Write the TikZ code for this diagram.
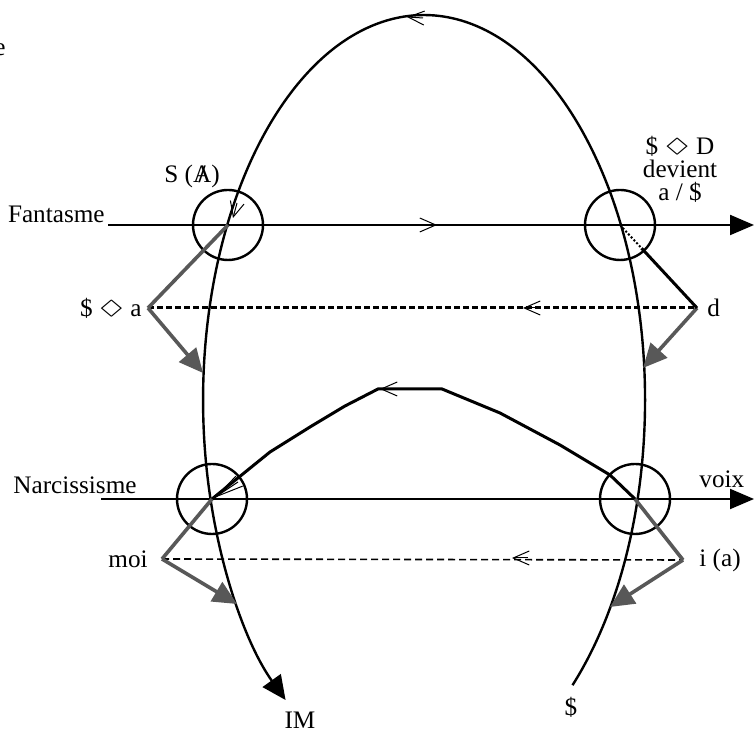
\documentclass[tikz,border=0pt]{standalone}
\usepackage{amssymb,graphicx}
\usepackage{fontspec}
\setmainfont{Liberation Serif}
\usetikzlibrary{arrows.meta,positioning,calc}
\definecolor{gris}{RGB}{88,88,88}
\newcommand{\poin}{\raisebox{0.15ex}{\scalebox{1.5}[0.8]{$\Diamond$}}}
\newcommand{\Abarre}{\ooalign{A\cr\hidewidth\textbf{/}\hidewidth}}

\begin{document}
\begin{tikzpicture}[x=0.5pt,y=0.5pt,
 txt/.style={inner sep=0pt,font=\fontsize{12.6}{11.5}\selectfont},
 rond/.style={draw,circle,line width=1.2pt,minimum size=35pt,inner sep=0pt},
 axe/.style={line width=1pt,-{Triangle[length=12pt,width=10pt]}},
 gtrait/.style={gris,line width=1.8pt},
 gfleche/.style={gtrait,-{Triangle[length=12pt,width=11pt]}},
 sens/.style={line width=0.5pt,-{Straight Barb[length=8pt,width=7pt]}}]
\useasboundingbox (0,0) rectangle (754,731);
% croisements
\coordinate (F1) at (228,506);
\coordinate (F2) at (620,506);
\coordinate (N1) at (212,232);
\coordinate (N2) at (635,232);
\coordinate (fs) at (108,506); \coordinate (fe) at (754,506);
\coordinate (ns) at (101,232); \coordinate (ne) at (754,232);
\coordinate (dol) at (572.5,45.8);
% sommets et pointes grises
\coordinate (psa) at (148,423);
\coordinate (pd) at (697,423);
\coordinate (pmoi) at (162,172);
\coordinate (pia) at (683,171);
\coordinate (tsa) at (203,358);
\coordinate (td) at (643,363);
\coordinate (tmoi) at (237,127);
\coordinate (tia) at (610,124);

% grand arc
\draw[line width=1.2pt,-{Triangle[length=12pt,width=11pt]}] (dol) arc[start angle=-47.8,end angle=231.2,x radius=221,y radius=385];
\draw[axe] (fs) -- (fe);
\draw[axe] (ns) -- (ne);
\node[rond] (cF1) at (F1) {};
\node[rond] (cF2) at (F2) {};
\node[rond] (cN1) at (N1) {};
\node[rond] (cN2) at (N2) {};
% petit arc
\draw[line width=1.5pt] (N1) -- (270,279) -- (310,304) -- (345,325) -- (378,342) -- (442,342) -- (500,318) -- (560,286) -- (610,256) -- (N2);
% pointilles
\draw[line width=1.5pt,dash pattern=on 3pt off 1.5pt] (psa) -- (pd);
\draw[line width=0.8pt,dash pattern=on 3.5pt off 2pt] (pmoi) -- (pia);
% gris
\draw[gtrait] (psa) -- (F1);
\draw[gfleche] (psa) -- (tsa);
\draw[gfleche] (pd) -- (td);
\draw[gtrait] (pmoi) -- (N1);
\draw[gfleche] (pmoi) -- (tmoi);
\draw[gtrait] (N2) -- (pia);
\draw[gfleche] (pia) -- (tia);
\draw[line width=1pt,densely dotted] (F2) -- ($(F2)!0.28!(pd)$);
\draw[line width=1.5pt] ($(F2)!0.28!(pd)$) -- (pd);
% sens de parcours
\draw[sens] (423,713) -- (407,714);
\draw[sens] (420,506) -- (437,506);
\draw[sens] (540,423) -- (523,423);
\draw[sens] (528,173) -- (512,173);
\draw[sens] (397,342) -- (380,342);
\draw[sens,-{Straight Barb[length=7.5pt,width=7pt]}] (237,528) -- (233,513);
\draw[sens,-{Straight Barb[length=14pt,width=6pt]}] (238,249) -- (214,233);

% textes
\node[txt,anchor=east] (e) at (6,681) {e};
\node[txt] (sbar) at (192,555) {S (\Abarre)};
\node[txt,anchor=east] (fant) at (105,517) {Fantasme};
\node[txt,align=center] (sdD) at (680,562) {\$ \poin\ D\\devient\\a / \$};
\node[txt,left=3pt of psa] (sa) {\$ \poin\ a};
\node[txt,right=5pt of pd] (d) {d};
\node[txt,anchor=west] (narc) at (13,246) {Narcissisme};
\node[txt,anchor=west] (voix) at (699,252) {voix};
\node[txt,left=7pt of pmoi] (moi) {moi};
\node[txt,right=8pt of pia] (ia) {i (a)};
\node[txt] (im) at (300,11) {IM};
\node[txt] (sdol) at (571,24) {\$};
\end{tikzpicture}
\end{document}
